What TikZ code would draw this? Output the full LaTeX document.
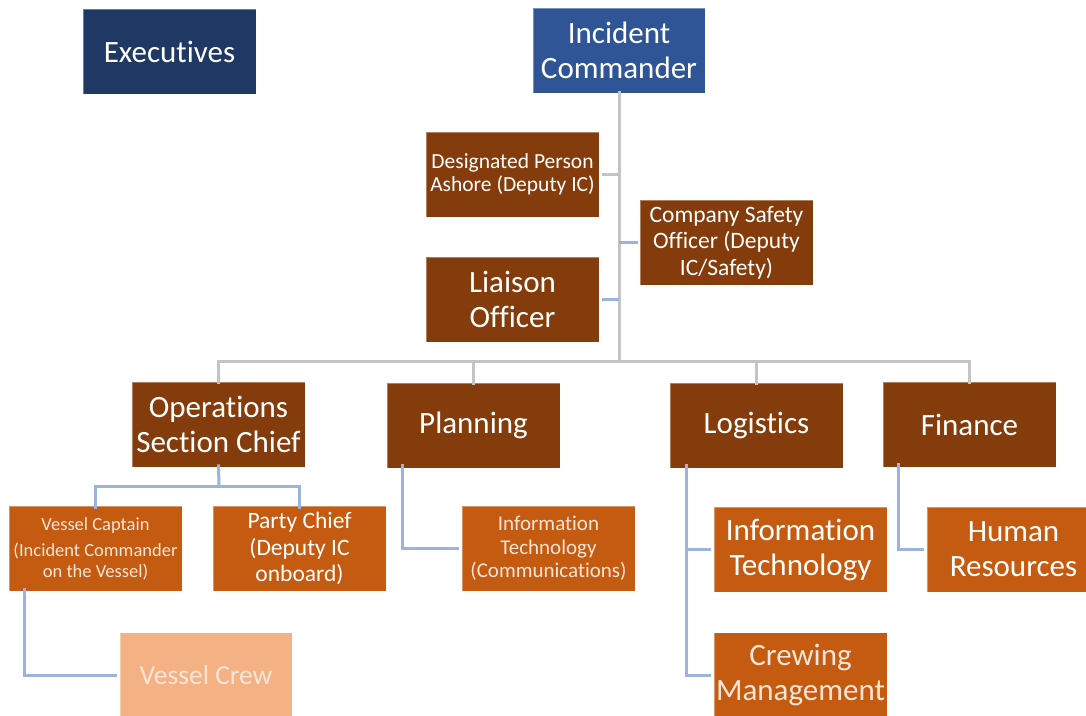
\documentclass[tikz,border=0pt]{standalone}
\usepackage{fontspec}
\setmainfont[Ligatures={NoCommon,NoContextual}]{Carlito}
\definecolor{navy}{HTML}{203864}
\definecolor{icblue}{HTML}{2F5597}
\definecolor{dbrown}{HTML}{843C0C}
\definecolor{orng}{HTML}{C55A11}
\definecolor{peach}{HTML}{F4B183}
\definecolor{gline}{HTML}{C4C4C4}
\definecolor{bline}{HTML}{9CB2E0}
\definecolor{lighttext}{HTML}{FBE5D6}
\begin{document}
\begin{tikzpicture}[x=1pt,y=-1pt,
  box/.style={minimum width=173pt, minimum height=85pt, inner sep=0pt, align=center,
    text=white, draw=white, draw opacity=0.35, line width=0.8pt},
  big/.style={font=\fontsize{31}{35}\selectfont},
  dk/.style={box, fill=dbrown},
  og/.style={box, fill=orng},
  gl/.style={draw=gline, line width=3pt},
  bl/.style={draw=bline, line width=3pt}]
\useasboundingbox (0,0) rectangle (1086,715);
% top
\node[box, big, fill=navy] (exec) at (169.5,51.5) {Executives};
\node[box, big, fill=icblue, minimum width=172pt] (ic) at (619,50.5) {Incident\\Commander};
\node[dk, font=\fontsize{21.5}{23}\selectfont] (dpa) at (512.5,174.5) {Designated Person\\Ashore (Deputy IC)};
\node[dk, font=\fontsize{23.5}{26.5}\selectfont] (cso) at (726.5,242.5) {Company Safety\\Officer (Deputy\\IC/Safety)};
\node[dk, big] (lia) at (512.5,299.5) {Liaison\\Officer};
% sections
\node[dk, big] (ops) at (218.5,424.5) {Operations\\Section Chief};
\node[dk, big] (plan) at (473.5,425.5) {Planning};
\node[dk, big] (log) at (756.5,425.5) {Logistics};
\node[dk, big] (fin) at (969.5,424.5) {Finance};
% units
\node[og, text=lighttext, font=\fontsize{18.5}{20.5}\selectfont] (vc) at (95.5,548.5) {Vessel Captain\\[6pt](Incident Commander\\on the Vessel)};
\node[og, font=\fontsize{23.5}{26.5}\selectfont] (pc) at (299.5,548.5) {Party Chief\\(Deputy IC\\onboard)};
\node[og, text=lighttext, font=\fontsize{21}{23.5}\selectfont] (itc) at (548.5,548.5) {Information\\Technology\\(Communications)};
\node[og, big] (it) at (800.5,549.5) {Information\\Technology};
\node[og, big, text=lighttext] (cm) at (800.5,675) {Crewing\\Management};
\node[og, big] (hr) at (1013.5,549.5) {Human\\Resources};
\node[box, fill=peach, text=lighttext, font=\fontsize{27.5}{32}\selectfont, minimum width=172pt] (crew) at (206,675) {Vessel Crew};
% main tree
\coordinate (bus) at (619,361);
\draw[gl] ([yshift=2pt]ic.south) -- (bus);
\draw[gl] ([yshift=-2pt]ops.north) |- (bus);
\draw[gl] ([yshift=-2pt]fin.north) |- (bus);
\draw[gl] ([yshift=-2pt]plan.north) -- (plan.north |- bus);
\draw[gl] ([yshift=-2pt]log.north) -- (log.north |- bus);
\draw[gl] ([xshift=3pt]dpa.east) -- (dpa.east -| ic.south);
\draw[bl] ([xshift=-2pt]cso.west) -- (cso.west -| ic.south);
\draw[bl] ([xshift=3pt]lia.east) -- (lia.east -| ic.south);
% operations
\coordinate (opsbus) at (219,486);
\draw[bl] ([yshift=3pt]ops.south) -- (opsbus);
\draw[bl] ([yshift=-3pt]vc.north) |- (opsbus);
\draw[bl] ([yshift=-3pt]pc.north) |- (opsbus);
\draw[bl] ([xshift=16pt,yshift=3pt]vc.south west) |- ([xshift=-3pt]crew.west);
% planning
\draw[bl] ([xshift=16pt,yshift=4pt]plan.south west) |- ([xshift=-3pt]itc.west);
% logistics
\draw[bl] ([xshift=17pt,yshift=4pt]log.south west) |- ([xshift=-3pt]cm.west);
\draw[bl] ([xshift=17pt]log.south west |- it.west) -- ([xshift=-3pt]it.west);
% finance
\draw[bl] ([xshift=16pt,yshift=4pt]fin.south west) |- ([xshift=-3pt]hr.west);
\end{tikzpicture}
\end{document}
